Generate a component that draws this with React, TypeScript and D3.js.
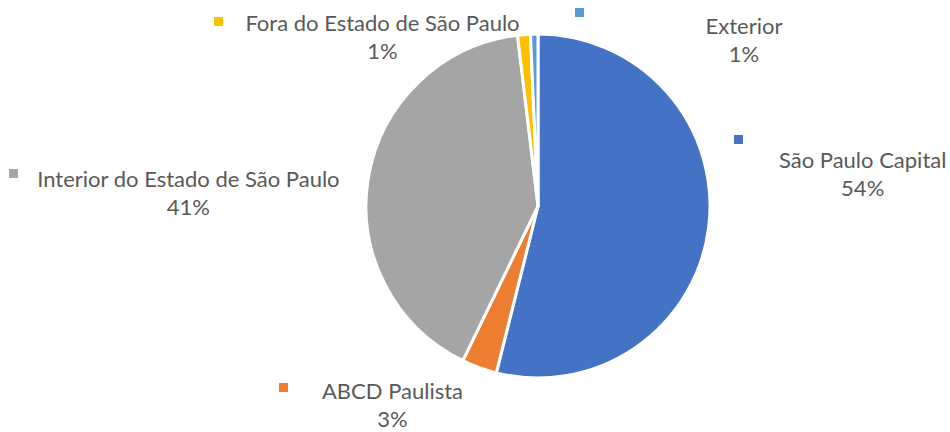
import React from "react";
import * as d3 from "d3";

const categories = [
  "São Paulo Capital",
  "ABCD Paulista",
  "Interior do Estado de São Paulo",
  "Fora do Estado de São Paulo",
  "Exterior",
];
const values = [53.9, 3.3, 40.9, 1.2, 0.7];
const percentLabels = ["54%", "3%", "41%", "1%", "1%"];
const colors = ["#4472C4", "#ED7D31", "#A5A5A5", "#FFC000", "#5B9BD5"];

const W = 950;
const H = 432;
const CX = 538;
const CY = 206;
const R = 172;
const FONT = "Lato, 'Liberation Sans', sans-serif";
const FS = 22;
const LINE = 28;

// label layout (text centre x, first baseline y, legend key x/y)
const layout = [
  { cx: 862.7, by: 168.3, kx: 734, ky: 135 },
  { cx: 392.5, by: 399, kx: 279, ky: 383 },
  { cx: 188.4, by: 187.3, kx: 9, ky: 169 },
  { cx: 382.5, by: 30.7, kx: 214, ky: 17 },
  { cx: 744, by: 34.3, kx: 575, ky: 8 },
];

export default function App() {
  const pie = d3
    .pie<number>()
    .sort(null)
    .value((d) => d)
    .startAngle(0)
    .endAngle(Math.PI * 2);
  const arcs = pie(values);
  const arc = d3.arc<d3.PieArcDatum<number>>().innerRadius(0).outerRadius(R);

  return (
    <svg
      width={W}
      height={H}
      style={{ position: "absolute", left: 0, top: 0, background: "#fff" }}
    >
      <g transform={`translate(${CX},${CY})`}>
        {arcs.map((a, i) => (
          <path
            key={i}
            d={arc(a) || ""}
            fill={colors[i]}
            stroke="#fff"
            strokeWidth={3}
            strokeLinejoin="round"
          />
        ))}
      </g>
      {categories.map((c, i) => {
        const l = layout[i];
        return (
          <g key={c}>
            <rect x={l.kx} y={l.ky} width={9} height={9} fill={colors[i]} />
            <text
              x={l.cx}
              y={l.by}
              textAnchor="middle"
              fontFamily={FONT}
              fontSize={FS}
              fill="#595959"
            >
              {c}
            </text>
            <text
              x={l.cx}
              y={l.by + LINE}
              textAnchor="middle"
              fontFamily={FONT}
              fontSize={FS}
              fill="#595959"
            >
              {percentLabels[i]}
            </text>
          </g>
        );
      })}
    </svg>
  );
}
